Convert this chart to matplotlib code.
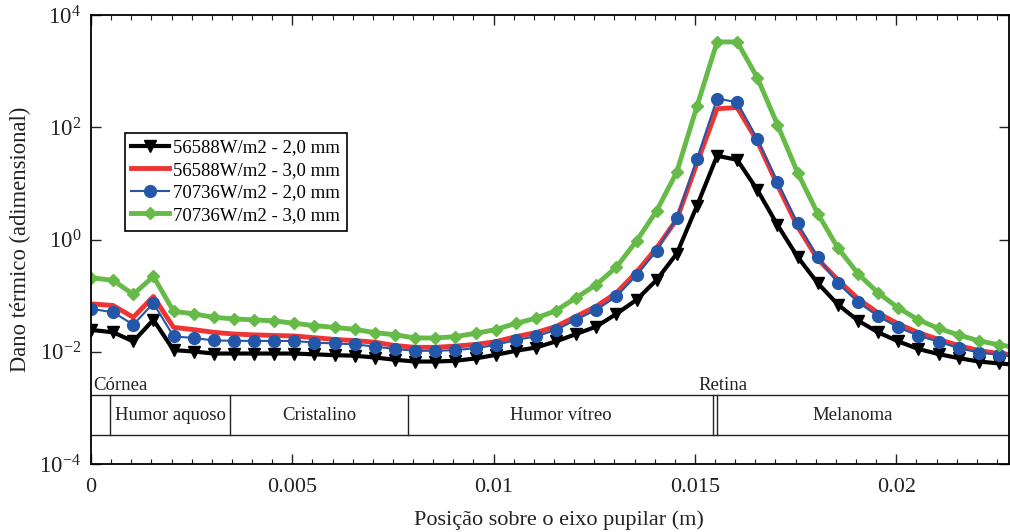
import matplotlib
matplotlib.use("Agg")
import matplotlib.pyplot as plt
import matplotlib.transforms as mtransforms
from matplotlib.ticker import MultipleLocator, FixedLocator

plt.rcParams['font.family'] = ['Liberation Serif', 'DejaVu Serif']
plt.rcParams['mathtext.fontset'] = 'custom'
plt.rcParams['mathtext.rm'] = 'Liberation Serif'

# posicao sobre o eixo pupilar (m)
x = [0.0, 0.00055, 0.00105, 0.00155, 0.00205, 0.00255, 0.00305, 0.00355, 0.00405, 0.00455,
     0.00505, 0.00555, 0.00605, 0.00655, 0.00705, 0.00755, 0.00805, 0.00855, 0.00905, 0.00955,
     0.01005, 0.01055, 0.01105, 0.01155, 0.01205, 0.01255, 0.01305, 0.01355, 0.01405, 0.01455,
     0.01505, 0.01555, 0.01605, 0.01655, 0.01705, 0.01755, 0.01805, 0.01855, 0.01905, 0.01955,
     0.02005, 0.02055, 0.02105, 0.02155, 0.02205, 0.02255, 0.02305]

# 56588W/m2 - 2,0 mm
dano_56588_2mm = [0.0245, 0.0222, 0.0153, 0.0370, 0.0107, 0.0101, 0.0093, 0.0093, 0.0093, 0.0093,
                  0.0093, 0.0090, 0.0087, 0.0085, 0.0079, 0.0072, 0.0067, 0.0067, 0.0069, 0.0076,
                  0.0088, 0.0104, 0.0119, 0.0153, 0.0207, 0.0281, 0.0473, 0.0843, 0.191, 0.562,
                  3.98, 31.0, 26.3, 7.64, 1.81, 0.489, 0.167, 0.0695, 0.0359, 0.0222,
                  0.0153, 0.0112, 0.0091, 0.0077, 0.0067, 0.0062, 0.0058]

# 56588W/m2 - 3,0 mm
dano_56588_3mm = [0.0714, 0.0667, 0.0411, 0.0966, 0.0272, 0.0248, 0.0222, 0.0207, 0.0200, 0.0195,
                  0.0191, 0.0178, 0.0166, 0.0158, 0.0148, 0.0129, 0.0120, 0.0120, 0.0126, 0.0135,
                  0.0151, 0.0186, 0.0219, 0.0282, 0.0427, 0.0646, 0.112, 0.263, 0.708, 2.29,
                  22.9, 214, 224, 56.2, 9.33, 1.70, 0.447, 0.191, 0.0879, 0.0490,
                  0.0313, 0.0219, 0.0166, 0.0129, 0.0105, 0.0093, 0.0085]

# 70736W/m2 - 2,0 mm
dano_70736_2mm = [0.0582, 0.0506, 0.0304, 0.0733, 0.0188, 0.0176, 0.0159, 0.0157, 0.0156, 0.0156,
                  0.0156, 0.0145, 0.0141, 0.0135, 0.0124, 0.0112, 0.0104, 0.0104, 0.0107, 0.0116,
                  0.0132, 0.0162, 0.0188, 0.0245, 0.0374, 0.0558, 0.0966, 0.231, 0.631, 2.45,
                  27.4, 325, 279, 61.7, 10.7, 1.93, 0.489, 0.167, 0.0764, 0.0429,
                  0.0272, 0.0193, 0.0151, 0.0116, 0.0097, 0.0088, 0.0081]

# 70736W/m2 - 3,0 mm
dano_70736_3mm = [0.209, 0.187, 0.105, 0.220, 0.0527, 0.0473, 0.0411, 0.0385, 0.0370, 0.0355,
                  0.0321, 0.0292, 0.0272, 0.0251, 0.0219, 0.0201, 0.0176, 0.0176, 0.0186, 0.0213,
                  0.0248, 0.0321, 0.0395, 0.0542, 0.0916, 0.157, 0.323, 0.944, 3.25, 16.0,
                  237, 3311, 3311, 762, 111, 15.5, 2.90, 0.708, 0.246, 0.112,
                  0.0605, 0.0370, 0.0261, 0.0199, 0.0157, 0.0133, 0.0117]

x_ticks = [0, 0.005, 0.01, 0.015, 0.02]
x_ticklabels = ['0', '0.005', '0.01', '0.015', '0.02']
y_ticks = [1e-4, 1e-2, 1, 1e2, 1e4]

# limites das regioes do olho (m)
limites = [0.00048, 0.00345, 0.00788, 0.01545, 0.01554]
regioes = ["Humor aquoso", "Cristalino", "Humor vítreo", "Melanoma"]
pos_regioes = [0.00197, 0.00567, 0.01167, 0.01893]

fig = plt.figure(figsize=(10.1, 5.32), dpi=100)
ax = fig.add_axes([0.0901, 0.1278, 0.9089, 0.844])

ax.plot(x, dano_56588_2mm, color='black', lw=3, marker='v', ms=8, label='56588W/m2 - 2,0 mm')
ax.plot(x, dano_56588_3mm, color='#EE3535', lw=3.5, label='56588W/m2 - 3,0 mm')
ax.plot(x, dano_70736_2mm, color='#2457A8', lw=1.5, marker='o', ms=8.5, label='70736W/m2 - 2,0 mm')
ax.plot(x, dano_70736_3mm, color='#66BB48', lw=3.5, marker='D', ms=6.5, label='70736W/m2 - 3,0 mm')

ax.set_yscale('log')
ax.set_xlim(0, 0.0228)
ax.set_ylim(1e-4, 1e4)
ax.yaxis.set_major_locator(FixedLocator(y_ticks))
ax.yaxis.set_minor_locator(FixedLocator([]))
ax.set_yticklabels([r'$\mathdefault{10^{-4}}$', r'$\mathdefault{10^{-2}}$', r'$\mathdefault{10^{0}}$',
                    r'$\mathdefault{10^{2}}$', r'$\mathdefault{10^{4}}$'])
ax.xaxis.set_major_locator(FixedLocator(x_ticks))
ax.xaxis.set_minor_locator(MultipleLocator(0.0005))
ax.set_xticklabels(x_ticklabels)

ax.tick_params(which='both', direction='in', top=True, right=True, colors='#222222')
ax.tick_params(which='major', length=7, width=1)
ax.tick_params(which='minor', length=3.5, width=0.8)
ax.tick_params(axis='x', labelsize=16, pad=10)
ax.tick_params(axis='y', labelsize=16.5, pad=7)
for s in ax.spines.values():
    s.set_linewidth(1.3)

ax.set_xlabel('Posição sobre o eixo pupilar (m)', fontsize=16, color='#222222')
ax.xaxis.set_label_coords(0.51, -0.103)
ax.set_ylabel('Dano térmico (adimensional)', fontsize=16.3, color='#222222', labelpad=6)

# faixa com as regioes
trans = mtransforms.blended_transform_factory(ax.transData, ax.transAxes)
y_cima, y_baixo = 0.1537, 0.0646
ax.plot([0, 1], [y_cima, y_cima], color='#222222', lw=1, transform=ax.transAxes)
ax.plot([0, 1], [y_baixo, y_baixo], color='#222222', lw=1, transform=ax.transAxes)
for lim in limites:
    ax.plot([lim, lim], [y_baixo, y_cima], color='#222222', lw=1, transform=trans)
for nome, pos in zip(regioes, pos_regioes):
    ax.text(pos, (y_cima + y_baixo) / 2, nome, transform=trans, ha='center', va='center',
            fontsize=13.5, color='#222222')
ax.text(0.00005, 0.174, 'Córnea', transform=trans, ha='left', va='center', fontsize=13.5, color='#222222')
ax.text(0.0157, 0.174, 'Retina', transform=trans, ha='center', va='center', fontsize=13.5, color='#222222')

leg = ax.legend(loc='upper left', bbox_to_anchor=(0.0365, 0.738), borderaxespad=0,
                fancybox=False, fontsize=13.5, handlelength=2.0, handletextpad=0.25,
                labelspacing=0.29, borderpad=0.35, framealpha=1)
leg.get_frame().set_edgecolor('black')
leg.get_frame().set_linewidth(1.2)

fig.savefig('out.png', dpi=100)
